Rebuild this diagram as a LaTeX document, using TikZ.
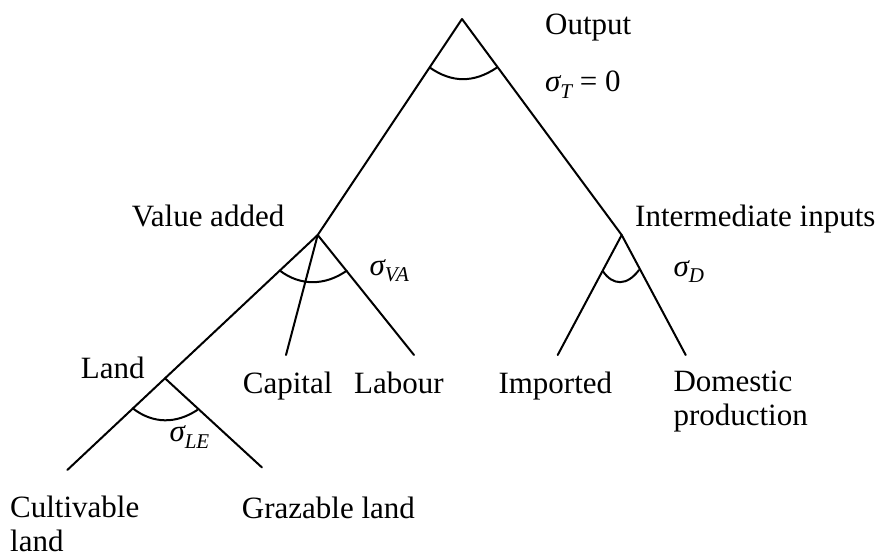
\documentclass[tikz,border=0pt]{standalone}
\usepackage{fontspec}
\setmainfont{Liberation Serif}
\newcommand{\sigsub}[1]{{\itshape σ}\raisebox{-0.22em}{\fontsize{21}{21}\selectfont\itshape #1}}
\begin{document}
\begin{tikzpicture}[x=1pt,y=-1pt,
  lbl/.style={anchor=base west,inner sep=0pt,font=\fontsize{31}{34}\selectfont,align=left},
  edge/.style={line width=2pt,line cap=round,line join=round}]
\useasboundingbox (0,0) rectangle (883,556);
% junction coordinates
\coordinate (top) at (462,19);
\coordinate (va) at (317.7,235);
\coordinate (ii) at (621.7,235);
\coordinate (land) at (165,378.3);
\coordinate (capE) at (286,355);
\coordinate (labE) at (414,355);
\coordinate (impE) at (557.7,355);
\coordinate (domE) at (685.7,355);
\coordinate (culE) at (67.3,470);
\coordinate (grzE) at (262,467.5);
% connectors
\draw[edge] (va) -- (top) -- (ii);
\draw[edge] (va) -- (land) -- (culE);
\draw[edge] (va) -- (capE);
\draw[edge] (va) -- (labE);
\draw[edge] (ii) -- (impE);
\draw[edge] (ii) -- (domE);
\draw[edge] (land) -- (grzE);
% elasticity arcs
\draw[edge] (430,67.7) .. controls (452,83) and (474,83) .. (496.7,67.7);
\draw[edge] (280,270.7) .. controls (300,286) and (325,286) .. (346.7,270.7);
\draw[edge] (602.7,271) .. controls (613,286) and (627,286) .. (639,270);
\draw[edge] (132.7,408.3) .. controls (153,424) and (176,424) .. (197.3,410);
% labels
\node[lbl] (output) at (545,35) {Output};
\node[lbl] (sigT) at (545,91.7) {\sigsub{T} = 0};
\node[lbl] (valadd) at (131.7,226.7) {Value added};
\node[lbl] (interm) at (635,226.7) {Intermediate inputs};
\node[lbl] (sigVA) at (369.3,275) {\sigsub{VA}};
\node[lbl] (sigD) at (673.3,276) {\sigsub{D}};
\node[lbl] (landl) at (80.7,378.3) {Land};
\node[lbl] (capital) at (242.7,393.3) {Capital};
\node[lbl] (labour) at (354,393.3) {Labour};
\node[lbl] (imported) at (498.3,393.3) {Imported};
\node[lbl] (domestic) at (673.3,425) {Domestic\\production};
\node[lbl] (sigLE) at (169.3,441.7) {\sigsub{LE}};
\node[lbl,text depth=0pt] (cultiv) at (10,551.5) {Cultivable\\land};
\node[lbl] (grazable) at (241.7,518.5) {Grazable land};
\end{tikzpicture}
\end{document}
